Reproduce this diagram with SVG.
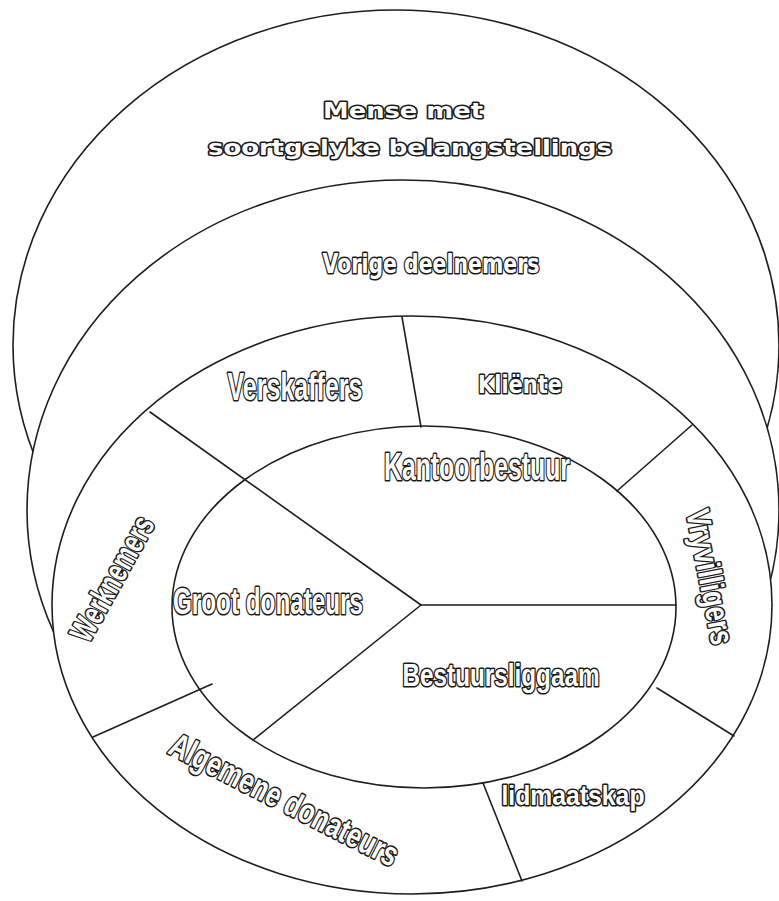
<svg xmlns="http://www.w3.org/2000/svg" width="779" height="901" viewBox="0 0 779 901">
  <style>
    .ring { fill: #ffffff; stroke: #1e1e1e; stroke-width: 1.6; }
    .div { stroke: #1e1e1e; stroke-width: 1.6; fill: none; stroke-linecap: round; }
    .lbl { fill: #ffffff; stroke: #1a1a1a; stroke-width: 3.2; stroke-linejoin: round; paint-order: stroke; font-family: "Liberation Sans", Arial, sans-serif; font-weight: bold; }
    .wide { font-family: "DejaVu Sans", "Liberation Sans", sans-serif; stroke-width: 3; }
  </style>
  <rect width="779" height="901" fill="#ffffff"/>

  <!-- outer field -->
  <g id="mense">
    <ellipse class="ring" cx="396" cy="345" rx="383" ry="335"/>
    <text class="lbl wide" x="403" y="118" font-size="22" text-anchor="middle" textLength="160" lengthAdjust="spacingAndGlyphs">Mense met</text>
    <text class="lbl wide" x="410" y="155" font-size="22" text-anchor="middle" textLength="404" lengthAdjust="spacingAndGlyphs">soortgelyke belangstellings</text>
  </g>

  <!-- second field -->
  <g id="vorige">
    <ellipse class="ring" cx="403" cy="510" rx="376" ry="330"/>
    <text class="lbl wide" x="431" y="273" font-size="26" text-anchor="middle" textLength="217" lengthAdjust="spacingAndGlyphs">Vorige deelnemers</text>
  </g>

  <!-- stakeholder ring -->
  <g id="ring">
    <ellipse class="ring" cx="412" cy="605" rx="360" ry="289"/>
  </g>

  <!-- core -->
  <g id="kern">
    <ellipse class="ring" cx="424" cy="607" rx="252" ry="181"/>
  </g>

  <!-- sector dividers -->
  <g id="connectors">
    <line class="div" x1="402" y1="317" x2="421" y2="427"/>
    <line class="div" x1="692" y1="425" x2="617" y2="491"/>
    <line class="div" x1="657" y1="688" x2="734" y2="736"/>
    <line class="div" x1="483" y1="783" x2="522" y2="881"/>
    <line class="div" x1="93" y1="737" x2="212" y2="684"/>
    <line class="div" x1="150" y1="412" x2="421" y2="605"/>
    <line class="div" x1="421" y1="605" x2="676" y2="605"/>
    <line class="div" x1="421" y1="605" x2="253" y2="740"/>
  </g>

  <g id="verskaffers">
    <text class="lbl" x="295" y="400" font-size="38" text-anchor="middle" textLength="135" lengthAdjust="spacingAndGlyphs">Verskaffers</text>
  </g>
  <g id="kliente">
    <text class="lbl wide" x="520" y="393" font-size="25" text-anchor="middle" textLength="84" lengthAdjust="spacingAndGlyphs">Kliënte</text>
  </g>
  <g id="vryvilligers">
    <text class="lbl" transform="translate(699,579) rotate(79)" x="0" y="0" font-size="33" text-anchor="middle" textLength="137" lengthAdjust="spacingAndGlyphs">Vryvilligers</text>
  </g>
  <g id="lidmaatskap">
    <text class="lbl" x="573" y="805" font-size="27" text-anchor="middle" textLength="143" lengthAdjust="spacingAndGlyphs">lidmaatskap</text>
  </g>
  <g id="algemene">
    <text class="lbl" transform="translate(279,810) rotate(27)" x="0" y="0" font-size="34" text-anchor="middle" textLength="252" lengthAdjust="spacingAndGlyphs">Algemene donateurs</text>
  </g>
  <g id="werknemers">
    <text class="lbl" transform="translate(122,584) rotate(-61)" x="0" y="0" font-size="33" text-anchor="middle" textLength="138" lengthAdjust="spacingAndGlyphs">Werknemers</text>
  </g>
  <g id="kantoorbestuur">
    <text class="lbl" x="477" y="480" font-size="38" text-anchor="middle" textLength="186" lengthAdjust="spacingAndGlyphs">Kantoorbestuur</text>
  </g>
  <g id="groot">
    <text class="lbl" x="268" y="614" font-size="36" text-anchor="middle" textLength="190" lengthAdjust="spacingAndGlyphs">Groot donateurs</text>
  </g>
  <g id="bestuursliggaam">
    <text class="lbl" x="501" y="686" font-size="31" text-anchor="middle" textLength="197" lengthAdjust="spacingAndGlyphs">Bestuursliggaam</text>
  </g>
</svg>
